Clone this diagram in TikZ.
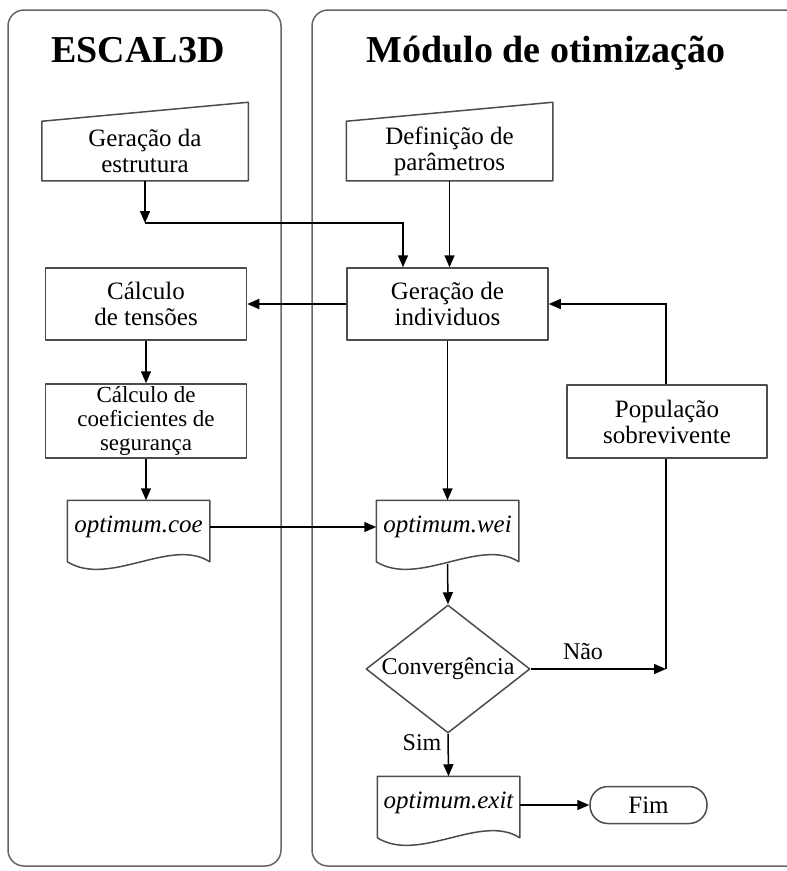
\documentclass[tikz,border=0pt]{standalone}
\usepackage{fontspec}
\setmainfont{Liberation Serif}
\usetikzlibrary{arrows.meta,shapes.geometric}

\begin{document}
\begin{tikzpicture}[x=1pt,y=-1pt,line width=1.5pt,
            >={Triangle[length=12pt,width=10pt]},
            lane/.style={draw=black!60, rounded corners=16pt},
            outline/.style={draw=black!70, line join=round},
            lanetitle/.style={anchor=base, font=\fontsize{38}{40}\selectfont\bfseries},
            proc/.style={outline, minimum width=201pt, minimum height=72pt, inner sep=1pt,
                align=center, font=\fontsize{25}{26}\selectfont},
            inbox/.style={minimum width=205pt, minimum height=58pt, inner sep=1pt,
                align=center, font=\fontsize{25}{26}\selectfont},
            docbox/.style={minimum width=141pt, minimum height=52pt, inner sep=1pt,
                font=\fontsize{25}{26}\selectfont\itshape},
            decision/.style={outline, diamond, minimum width=164pt, minimum height=128pt,
                inner sep=0pt, font=\fontsize{24}{26}\selectfont},
            endbox/.style={outline, rounded corners=18pt, minimum width=117pt,
                minimum height=37pt, font=\fontsize{25}{26}\selectfont},
            lbl/.style={font=\fontsize{24}{26}\selectfont}]
            \useasboundingbox (0,0) rectangle (787,871);
            \clip (0,0) rectangle (787,871);

            \draw[lane] (8,866) rectangle (281,10);
            \draw[lane] (312,866) rectangle (810,10);
            \node[lanetitle] (tesc) at (138,62) {ESCAL3D};
            \node[lanetitle] (tmod) at (546,62) {Módulo de otimização};

            \node[inbox] (estr) at (145,151) {Geração da\\estrutura};
            \node[inbox] (param) at (449.5,151) {Definição de\\parâmetros};
            \foreach \n in {estr,param}
                \draw[outline] (\n.south west) -- (\n.north west) -- ([yshift=19pt]\n.north east)
                    -- (\n.south east) -- cycle;

            \node[proc] (ind) at (447.5,304) {Geração de\\individuos};
            \node[proc] (tens) at (146,304) {Cálculo\\de tensões};
            \node[proc, minimum height=74pt, font=\fontsize{23}{24}\selectfont] (coef) at (146,421)
                {Cálculo de\\coeficientes de\\segurança};
            \node[proc, minimum width=200pt, minimum height=73pt] (pop) at (667,421.5)
                {População\\sobrevivente};

            \node[docbox] (coe) at (138.5,527) {optimum.coe};
            \node[docbox] (wei) at (447.5,527) {optimum.wei};
            \node[docbox] (exit) at (448.5,803) {optimum.exit};
            \foreach \n in {coe,wei,exit}
                \draw[outline] ([yshift=-8pt]\n.south west) -- (\n.north west) -- (\n.north east)
                    -- ([yshift=-8pt]\n.south east)
                    .. controls +(-39pt,25pt) and +(42pt,-26pt) .. ([yshift=-8pt]\n.south west);

            \node[decision] (conv) at (448,669) {\makebox[0pt]{Convergência}};
            \node[endbox] (fim) at (648.5,805) {Fim};

            \coordinate (j1) at (145,223);
            \coordinate (j2) at (666,669);

            \draw[->] (estr.south) -- (j1);
            \draw[->] (j1) -| ([xshift=-44.5pt]ind.north);
            \draw[->] (param.south) -- (param.south |- ind.north);
            \draw[->] (ind.west) -- (tens.east);
            \draw[->] (tens.south) -- (coef.north);
            \draw[->] (coef.south) -- (coef.south |- coe.north);
            \draw[->] (coe.east) -- (wei.west);
            \draw[->] (ind.south) -- (wei.north);
            \draw[->] ([yshift=-10pt]wei.south) -- (conv.north);
            \draw[->] (conv.south) -- (exit.north);
            \draw[->] (conv.east) -- (j2);
            \draw (pop.south -| j2) -- (j2);
            \draw[->] (pop.north -| j2) |- (ind.east);
            \draw[->] (exit.east |- fim.west) -- (fim.west);

            \node[lbl] (sim) at (422,743) {Sim};
            \node[lbl] (nao) at (583,652) {Não};
        \end{tikzpicture}
\end{document}
